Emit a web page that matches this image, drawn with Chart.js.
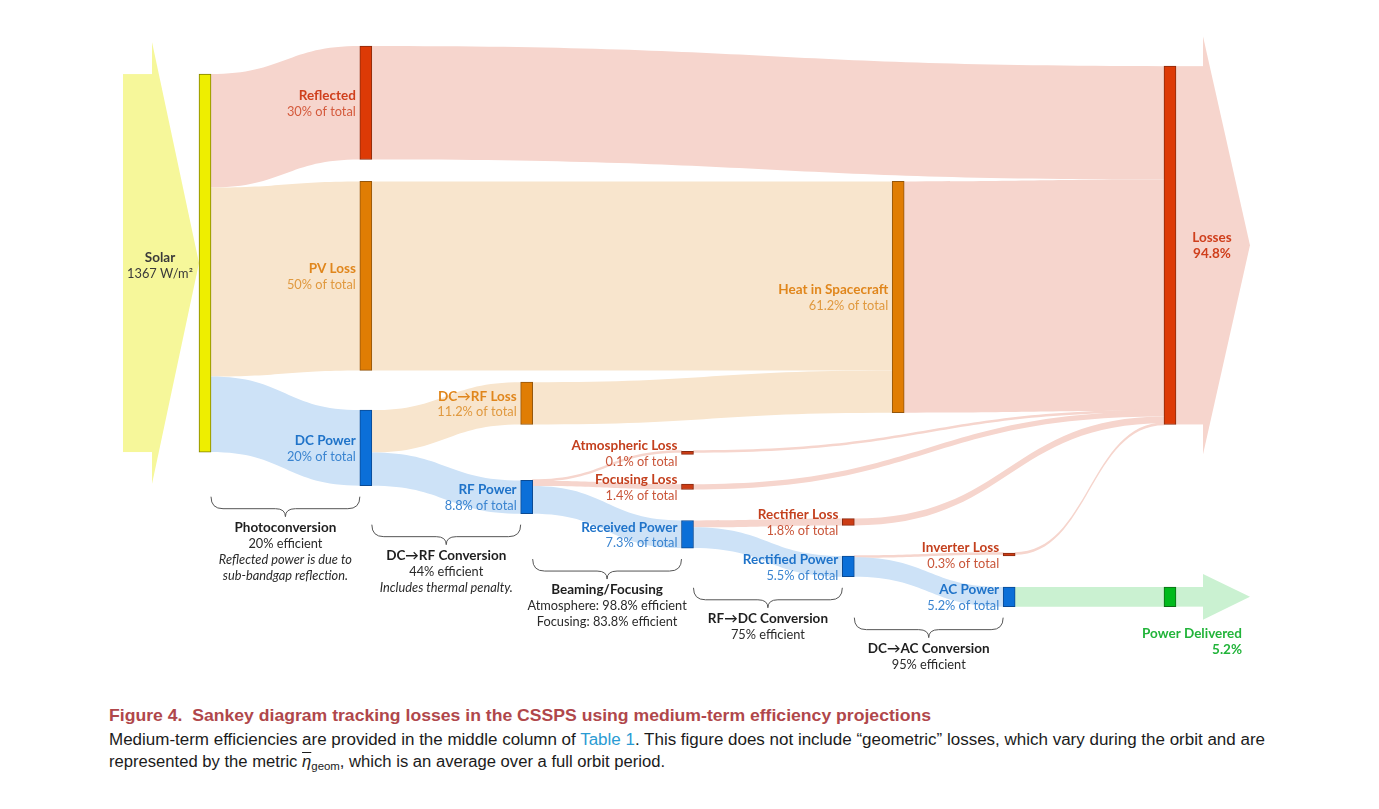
<!DOCTYPE html>
<html><head><meta charset="utf-8">
<script src="https://cdn.jsdelivr.net/npm/chart.js@4.4.1/dist/chart.umd.min.js"></script>
<style>
html,body{margin:0;padding:0;background:#fff;}
#wrap{position:relative;width:1379px;height:809px;overflow:hidden;background:#fff;}
#c{position:absolute;left:0;top:0;}
.cap{position:absolute;left:109px;white-space:nowrap;font-family:"Liberation Sans",Arial,sans-serif;transform-origin:0 50%;}
#t{top:707px;font-weight:bold;font-size:17px;line-height:18px;color:#b0474b;}
#l1{top:731px;font-size:16px;line-height:18px;color:#1b1b1b;}
#l2{top:753px;font-size:16px;line-height:18px;color:#1b1b1b;}
#l1 a{color:#2a9bd3;text-decoration:none;}
.eta{font-style:italic;text-decoration:overline;}
.cap sub{font-size:11px;vertical-align:-3px;line-height:0;}
</style></head>
<body><div id="wrap">
<canvas id="c" width="1379" height="700"></canvas>
<div class="cap" id="t">Figure 4.&nbsp; Sankey diagram tracking losses in the CSSPS using medium-term efficiency projections</div>
<div class="cap" id="l1">Medium-term efficiencies are provided in the middle column of <a>Table 1</a>. This figure does not include “geometric” losses, which vary during the orbit and are</div>
<div class="cap" id="l2">represented by the metric <span class="eta">η</span><sub>geom</sub>, which is an average over a full orbit period.</div>
</div>
<script>
// ---------------- DATA ----------------
const nodeNames = ['Solar','Reflected','PV Loss','DC Power','DC\u2192RF Loss','RF Power','Atmospheric Loss','Focusing Loss','Received Power','Heat in Spacecraft','Rectifier Loss','Rectified Power','Inverter Loss','AC Power','Losses','Power Delivered'];
const nodeSubLabels = ['1367 W/m\u00b2','30% of total','50% of total','20% of total','11.2% of total','8.8% of total','0.1% of total','1.4% of total','7.3% of total','61.2% of total','1.8% of total','5.5% of total','0.3% of total','5.2% of total','94.8%','5.2%'];
const nodeColumns = [0,1,1,1,2,2,3,3,3,4.31,4,4,5,5,6,6];
const linkSources = [0,0,0,3,3,5,5,5,2,4,8,8,11,11,1,9,6,7,10,12,13];
const linkTargets = [1,2,3,4,5,6,7,8,9,9,10,11,12,13,14,14,14,14,14,14,15];
const linkValues  = [30,50,20,11.2,8.8,0.1,1.4,7.3,50,11.2,1.8,5.5,0.3,5.2,30,61.2,0.1,1.4,1.8,0.3,5.2];
const stageTitles = ['Photoconversion','DC\u2192RF Conversion','Beaming/Focusing','RF\u2192DC Conversion','DC\u2192AC Conversion'];
const stageLines = [
  ['20% efficient','*Reflected power is due to','*sub-bandgap reflection.'],
  ['44% efficient','*Includes thermal penalty.'],
  ['Atmosphere: 98.8% efficient','Focusing: 83.8% efficient'],
  ['75% efficient'],
  ['95% efficient']
];
const stageFromColumn = [0,1,2,3,4];

// ---------------- LAYOUT / STYLE ----------------
const nodeShift = [0,-7.4,-1.6,8.9,-7.4,7.4,-7.7,0.9,9.1,0,-0.5,7.6,-0.8,7.9,5.3,0]; // vertical spacing offsets (value units)
const NODE_W = 12, MIN_NODE = 0.8;
const KIND = ['yellow','red','orange','blue','orange','blue','loss','loss','blue','orange','loss','blue','loss','blue','red','green'];
const FILL = {yellow:'#eeee00',red:'#dd3a06',orange:'#e07d04',blue:'#0b6fd8',loss:'#cc3c14',green:'#00ba1c'};
const EDGE = {yellow:'#7f7f00',red:'#8a2a0c',orange:'#94560c',blue:'#0b4a93',loss:'#8a2a10',green:'#0e6a16'};
const FLOW = {yellow:'#f6f79a',red:'#f6d5cd',orange:'#f8e5cd',blue:'#cde2f7',loss:'#f6d5cd',green:'#caf1d1'};
const NAMEC = {yellow:'#3a3a3a',red:'#cf3f1c',orange:'#e0861c',blue:'#1f73c9',loss:'#c4401e',green:'#22b43a'};
const SUBC  = {yellow:'#3a3a3a',red:'#d45a3c',orange:'#e0993f',blue:'#3a84d0',loss:'#c95539',green:'#22b43a'};
const FONT = 'Lato, "Open Sans", sans-serif';
const BOLD = 'bold 13.5px ' + FONT, REG = '12.8px ' + FONT;

// ---- derived values & layout ----
const N = nodeNames.length;
const inSum = new Array(N).fill(0), outSum = new Array(N).fill(0);
linkValues.forEach((v,i)=>{ outSum[linkSources[i]] += v; inSum[linkTargets[i]] += v; });
const nodeValue = nodeNames.map((_,i)=>Math.max(inSum[i], outSum[i]));
const nodeTop = new Array(N).fill(0);
const outOffsetOfLink = [], inOffsetOfLink = [];
(function(){
  const oc = new Array(N).fill(0);
  linkValues.forEach((v,i)=>{ outOffsetOfLink[i] = oc[linkSources[i]]; oc[linkSources[i]] += v; });
  const ic = new Array(N).fill(0);
  linkValues.forEach((v,i)=>{ inOffsetOfLink[i] = ic[linkTargets[i]]; ic[linkTargets[i]] += v; });
  for (let n=0;n<N;n++){
    const l = linkTargets.indexOf(n);
    if (l < 0) { nodeTop[n] = nodeShift[n]; continue; }
    nodeTop[n] = nodeTop[linkSources[l]] + outOffsetOfLink[l] + nodeShift[n];
  }
})();

const PXC = 160.83;
const xMin = -205/PXC, xMax = xMin + 1379/PXC;

function bezBand(ctx, x0, x1, a0, b0, a1, b1){
  const xm = (x0+x1)/2;
  ctx.beginPath();
  ctx.moveTo(x0,a0);
  ctx.bezierCurveTo(xm,a0,xm,a1,x1,a1);
  ctx.lineTo(x1,b1);
  ctx.bezierCurveTo(xm,b1,xm,b0,x0,b0);
  ctx.closePath();
  ctx.fill();
}

const sankeyPlugin = {
  id:'sankey',
  beforeDatasetsDraw(chart){
    const ctx = chart.ctx, xs = chart.scales.x, ys = chart.scales.y;
    const L = n => xs.getPixelForValue(nodeColumns[n]) - NODE_W/2;
    const R = n => xs.getPixelForValue(nodeColumns[n]) + NODE_W/2;
    const T = n => ys.getPixelForValue(nodeTop[n]);
    const B = n => ys.getPixelForValue(nodeTop[n] + Math.max(nodeValue[n], MIN_NODE));
    ctx.save();
    // input arrow (Solar)
    {
      const n = 0, l = L(n), t = T(n), b = B(n), m = (t+b)/2;
      ctx.fillStyle = FLOW.yellow;
      ctx.fillRect(l-76, t, 29.5, b-t);
      ctx.beginPath(); ctx.moveTo(l-47, t-32); ctx.lineTo(l, m); ctx.lineTo(l-47, b+32); ctx.closePath(); ctx.fill();
    }
    // output arrows
    [[14,30],[15,13]].forEach(([n,over])=>{
      const r = R(n), t = T(n), b = B(n), m = (t+b)/2;
      ctx.fillStyle = FLOW[KIND[n]];
      ctx.fillRect(r-1, t, 28.5, b-t);
      ctx.beginPath(); ctx.moveTo(r+27, t-over); ctx.lineTo(r+74, m); ctx.lineTo(r+27, b+over); ctx.closePath(); ctx.fill();
    });
    // flows
    linkValues.forEach((v,i)=>{
      const s = linkSources[i], g = linkTargets[i];
      const x0 = R(s), x1 = L(g);
      let a0 = ys.getPixelForValue(nodeTop[s] + outOffsetOfLink[i]);
      let b0 = ys.getPixelForValue(nodeTop[s] + outOffsetOfLink[i] + v);
      let a1 = ys.getPixelForValue(nodeTop[g] + inOffsetOfLink[i]);
      let b1 = ys.getPixelForValue(nodeTop[g] + inOffsetOfLink[i] + v);
      const minT = 2.6;
      if (b0 - a0 < minT) {
        const c0 = (a0+b0)/2, c1 = (a1+b1)/2;
        a0 = c0 - minT/2; b0 = c0 + minT/2; a1 = c1 - minT/2; b1 = c1 + minT/2;
      }
      ctx.fillStyle = FLOW[KIND[g]];
      bezBand(ctx, x0-0.5, x1+0.5, a0, b0, a1, b1);
    });
    ctx.restore();
  },
  afterDatasetsDraw(chart){
    const ctx = chart.ctx, xs = chart.scales.x, ys = chart.scales.y;
    const L = n => xs.getPixelForValue(nodeColumns[n]) - NODE_W/2;
    const R = n => xs.getPixelForValue(nodeColumns[n]) + NODE_W/2;
    const T = n => ys.getPixelForValue(nodeTop[n]);
    const B = n => ys.getPixelForValue(nodeTop[n] + Math.max(nodeValue[n], MIN_NODE));
    ctx.save();
    ctx.textBaseline = 'middle';
    for (let n=0;n<N;n++){
      const k = KIND[n], t = T(n), b = B(n), m = (t+b)/2;
      let x, y1, y2, align = 'right', subBold = false;
      if (n === 0) { x = L(n) - 39; y1 = m - 5; y2 = m + 11; align = 'center'; }
      else if (n === 14) { x = R(n) + 36; y1 = m - 8; y2 = m + 8; align = 'center'; subBold = true; }
      else if (n === 15) { x = R(n) + 66; y1 = b + 27; y2 = b + 43; subBold = true; }
      else { x = L(n) - 4; y1 = m - 7; y2 = m + 9; }
      ctx.textAlign = align;
      ctx.font = BOLD;
      ctx.fillStyle = NAMEC[k];
      ctx.fillText(nodeNames[n], x, y1);
      ctx.font = subBold ? BOLD : REG;
      ctx.fillStyle = subBold ? NAMEC[k] : SUBC[k];
      ctx.fillText(nodeSubLabels[n], x, y2);
    }
    // stage braces
    stageTitles.forEach((title, si)=>{
      const c = stageFromColumn[si];
      const colNodes = [];
      for (let n=0;n<N;n++) if (nodeColumns[n] === c || nodeColumns[n] === c+1) colNodes.push(n);
      const left = colNodes.filter(n=>nodeColumns[n]===c).map(R)[0];
      const right = colNodes.filter(n=>nodeColumns[n]===c+1).map(L)[0];
      const y0 = Math.max(...colNodes.map(B)) + 11;
      const xm = (left+right)/2;
      ctx.strokeStyle = '#555'; ctx.lineWidth = 1;
      ctx.beginPath();
      ctx.moveTo(left, y0);
      ctx.quadraticCurveTo(left, y0+12, left+12, y0+12);
      ctx.lineTo(xm-10, y0+12);
      ctx.quadraticCurveTo(xm, y0+12, xm, y0+20);
      ctx.quadraticCurveTo(xm, y0+12, xm+10, y0+12);
      ctx.lineTo(right-12, y0+12);
      ctx.quadraticCurveTo(right, y0+12, right, y0);
      ctx.stroke();
      ctx.textAlign = 'center';
      ctx.font = BOLD; ctx.fillStyle = '#1e1e1e';
      ctx.fillText(title, xm, y0 + 31);
      stageLines[si].forEach((ln, j)=>{
        const it = ln.startsWith('*');
        ctx.font = (it ? 'italic ' : '') + REG; ctx.fillStyle = '#2a2a2a';
        ctx.fillText(it ? ln.slice(1) : ln, xm, y0 + 47 + 16*j);
      });
    });
    ctx.restore();
  }
};

new Chart(document.getElementById('c'), {
  type: 'bar',
  data: { datasets: [{
    data: nodeNames.map((_,n)=>({ x: nodeColumns[n], y: [nodeTop[n], nodeTop[n] + Math.max(nodeValue[n], MIN_NODE)] })),
    backgroundColor: KIND.map(k=>FILL[k]),
    borderColor: KIND.map(k=>EDGE[k]),
    borderWidth: 1,
    borderSkipped: false,
    barThickness: NODE_W
  }]},
  options: {
    responsive: false, animation: false, events: [],
    layout: { padding: 0 },
    plugins: { legend: { display: false }, tooltip: { enabled: false } },
    scales: {
      x: { type: 'linear', min: xMin, max: xMax, offset: false, display: false },
      y: { type: 'linear', min: -19.6, max: 165.6, reverse: true, display: false }
    }
  },
  plugins: [sankeyPlugin]
});

// fit caption lines to the reference widths
[['t',822],['l1',1156],['l2',556]].forEach(([id,w])=>{
  const el = document.getElementById(id);
  const cw = el.getBoundingClientRect().width;
  el.style.transform = 'scaleX(' + (w/cw) + ')';
});
</script>
</body></html>
